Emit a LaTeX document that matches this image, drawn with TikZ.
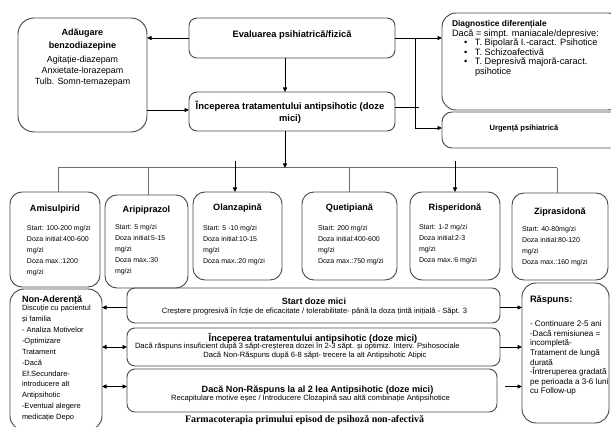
\documentclass[tikz,border=0pt]{standalone}
\usepackage{fontspec}
\setmainfont{Liberation Sans}
\newfontfamily\captionserif{Liberation Serif}
\usetikzlibrary{arrows.meta}
\definecolor{framegray}{HTML}{4A4A4A}
\definecolor{busgray}{HTML}{6E6E6E}
\newcommand\fsz[2]{\fontsize{#1}{#2}\selectfont}
% rounded panel given by its corners: name, x1, y1, x2, y2, corner radius
\newcommand\panel[6]{%
  \node[panelbox, rounded corners=#6, anchor=north west,
        minimum width={(#4-#2)*1pt}, minimum height={(#5-#3)*1pt}] (#1) at (#2,#3) {};}
% bullet item with the bullet hanging in front of the text
\newcommand\bulitem{\hspace*{12pt}•\hspace*{7.7pt}}
\begin{document}
\begin{tikzpicture}[x=1pt, y=-1pt,
  panelbox/.style={draw=framegray, line width=0.95pt, inner sep=0pt, outer sep=0pt},
  tx/.style={inner sep=0pt, outer sep=0pt, execute at begin node={\rule{0pt}{1em}}},
  link/.style={draw=black, line width=0.8pt},
  arr/.style={link, -{Triangle[length=4.5pt, width=4pt]}},
  darr/.style={link, {Triangle[length=4.5pt, width=4pt]}-{Triangle[length=4.5pt, width=4pt]}},
  bus/.style={draw=busgray, line width=1pt},
]
\useasboundingbox (0,0) rectangle (611,427);

% ---------- panels ----------
\panel{adaug}{18}{18}{147}{132}{16pt}
\panel{eval}{189}{18}{395}{58}{8pt}
\panel{incep}{189}{92}{395}{131}{8pt}
\panel{diag}{442}{13}{622}{110}{14pt}
\panel{urg}{442}{112}{622}{148}{10pt}
\panel{amis}{10}{192}{100}{287}{12pt}
\panel{arip}{105}{195}{188}{288}{12pt}
\panel{olan}{193}{192}{282}{280}{12pt}
\panel{quet}{302}{192}{397}{280}{12pt}
\panel{risp}{410}{192}{500}{280}{12pt}
\panel{zipr}{512}{193}{608}{280}{12pt}
\panel{nonad}{10}{289}{102}{430}{14pt}
\panel{start}{127}{288}{500}{323}{8pt}
\panel{incepb}{127}{328}{500}{366}{8pt}
\panel{daca}{127}{369}{497}{412}{8pt}
\panel{rasp}{522}{283}{609}{423}{14pt}

\begin{scope}[yshift=-1pt]
% ---------- top section texts ----------
\node[tx, anchor=north, align=center, font=\bfseries\fsz{9}{13}] (adaugT) at (82.5,28.2) {Adăugare\\benzodiazepine};
\node[tx, anchor=north, align=center, font=\fsz{8.9}{11}] (adaugB) at (82.5,55.3) {Agitație-diazepam\\Anxietate-lorazepam\\Tulb. Somn-temazepam};
\node[tx, anchor=north, font=\bfseries\fsz{9.3}{11}] (evalT) at (292,27) {Evaluarea psihiatrică/fizică};
\node[tx, anchor=north, align=center, font=\bfseries\fsz{9.4}{12}] (incepT) at (290,100) {Începerea tratamentului antipsihotic (doze\\mici)};
\node[tx, anchor=north west, font=\bfseries\fsz{8.4}{10}] (diagT) at (452,17.5) {Diagnostice diferențiale};
\node[tx, anchor=north west, align=left, font=\fsz{9.2}{9.6}] (diagB) at (452,28.3) {Dacă = simpt. maniacale/depresive:\\
  \bulitem T. Bipolară I.-caract. Psihotice\\
  \bulitem T. Schizoafectivă\\
  \bulitem T. Depresivă majoră-caract.\\
  \hspace*{23pt}psihotice};
\node[tx, anchor=north, font=\bfseries\fsz{7.6}{10}] (urgT) at (524,122) {Urgență psihiatrică};

% ---------- antipsychotic panels ----------
\node[tx, anchor=north, font=\bfseries\fsz{9.1}{11}] (amisT) at (55,201.2) {Amisulpirid};
\node[tx, anchor=north, font=\bfseries\fsz{9.1}{11}] (aripT) at (146.5,202.2) {Aripiprazol};
\node[tx, anchor=north, font=\bfseries\fsz{9.1}{11}] (olanT) at (237.5,200.2) {Olanzapină};
\node[tx, anchor=north, font=\bfseries\fsz{9.1}{11}] (quetT) at (349.5,200.2) {Quetipiană};
\node[tx, anchor=north, font=\bfseries\fsz{9.1}{11}] (rispT) at (455,200.2) {Risperidonă};
\node[tx, anchor=north, font=\bfseries\fsz{9.1}{11}] (ziprT) at (560,204.2) {Ziprasidonă};

\node[tx, anchor=north west, align=left, font=\fsz{7}{11}] (amisB) at (27,224.5) {Start: 100-200 mg/zi\\Doza initial:400-600\\mg/zi\\Doza max.:1200\\mg/zi};
\node[tx, anchor=north west, align=left, font=\fsz{7}{11}] (aripB) at (115,223.5) {Start: 5 mg/zi\\Doza initial:5-15\\mg/zi\\Doza max.:30\\mg/zi};
\node[tx, anchor=north west, align=left, font=\fsz{7}{11}] (olanB) at (203,224.5) {Start: 5 -10 mg/zi\\Doza initial:10-15\\mg/zi\\Doza max.:20 mg/zi};
\node[tx, anchor=north west, align=left, font=\fsz{7}{11}] (quetB) at (318,224.5) {Start: 200 mg/zi\\Doza initial:400-600\\mg/zi\\Doza max.:750 mg/zi};
\node[tx, anchor=north west, align=left, font=\fsz{7}{11}] (rispB) at (419,223.5) {Start: 1-2 mg/zi\\Doza initial:2-3\\mg/zi\\Doza max.:6 mg/zi};
\node[tx, anchor=north west, align=left, font=\fsz{7}{11}] (ziprB) at (522,225.5) {Start: 40-80mg/zi\\Doza initial:80-120\\mg/zi\\Doza max.:160 mg/zi};

% ---------- lower section texts ----------
\node[tx, anchor=north west, font=\bfseries\fsz{9.1}{11}] (nonadT) at (22,292.2) {Non-Aderență};
\node[tx, anchor=north west, align=left, font=\fsz{7.5}{10.9}] (nonadB) at (22,304.2) {Discuție cu pacientul\\și familia\\- Analiza Motivelor\\-Optimizare\\Tratament\\-Dacă\\Ef.Secundare-\\introducere alt\\Antipsihotic\\-Eventual alegere\\medicație Depo};

\node[tx, anchor=north west, font=\bfseries\fsz{9.3}{11}] (raspT) at (530,292) {Răspuns:};
\node[tx, anchor=north west, align=left, font=\fsz{8.1}{9.6}] (raspB) at (530,319.8) {- Continuare 2-5 ani\\-Dacă remisiunea =\\incompletă-\\Tratament de lungă\\durată\\-Întreruperea gradată\\pe perioada a 3-6 luni\\cu Follow-up};

\node[tx, anchor=north, font=\bfseries\fsz{9}{11}] (startT) at (314,294.2) {Start doze mici};
\node[tx, anchor=north, font=\fsz{7.6}{9}] (startB) at (314.5,305.1) {Creștere progresivă în fcție de eficacitate / tolerabilitate- până la doza țintă inițială - Săpt. 3};

\node[tx, anchor=north, font=\bfseries\fsz{9.2}{11}] (incepbT) at (313,331.1) {Începerea tratamentului antipsihotic (doze mici)};
\node[tx, anchor=north west, font=\fsz{7.6}{9}] (incepbA) at (135,340.1) {Dacă răspuns insuficient după 3 săpt-creșterea dozei în 2-3 săpt. și optimiz. Interv. Psihosociale};
\node[tx, anchor=north, font=\fsz{7.6}{9}] (incepbB) at (315,349.1) {Dacă Non-Răspuns după 6-8 săpt- trecere la alt Antipsihotic Atipic};

\node[tx, anchor=north, font=\bfseries\fsz{9.1}{11}] (dacaT) at (317.5,382.2) {Dacă Non-Răspuns la al 2 lea Antipsihotic (doze mici)};
\node[tx, anchor=north, font=\fsz{7.6}{9}] (dacaB) at (310.5,392.1) {Recapitulare motive eșec / Introducere Clozapină sau altă combinație Antipsihotice};

\node[tx, anchor=north, font=\captionserif\bfseries\fsz{9.9}{11}] (caption) at (304.5,411.4) {Farmacoterapia primului episod de psihoză non-afectivă};
\end{scope}

% ---------- connectors: top ----------
\draw[arr] (eval.west) -- (eval.west -| adaug.east);
\draw[arr] ([yshift=1.5pt]incep.west -| adaug.east) -- ([yshift=1.5pt]incep.west);
\draw[arr] ([xshift=-7pt]eval.south) -- ([xshift=-7pt]incep.north);
\draw[arr] (eval.east) -- (eval.east -| diag.west);
\coordinate (split) at (415,38);
\draw[arr] (split) |- ([yshift=2pt]urg.west);
\coordinate (incepOut) at ([yshift=4pt]incep.east);
\draw[link] (incepOut) -- ++(24,0);

% ---------- connectors: distribution bus ----------
\coordinate (busL) at (58,168);
\coordinate (busB) at (148,168);
\coordinate (busQ) at (349,168);
\coordinate (busR) at (557,168);
\draw[bus] (busL) -- (busR);
\draw[bus] (busL) -- (busL |- amis.north);
\draw[bus] (busB) -- (busB |- arip.north);
\draw[bus] (busQ) -- (busQ |- quet.north);
\draw[bus] (busR) -- (busR |- zipr.north);
\draw[arr] ([xshift=-7pt]incep.south) -- ([xshift=-7pt]incep.south |- busL);
\coordinate (olanIn) at (235,161);
\draw[arr] (olanIn) -- (olanIn |- olan.north);
\coordinate (rispIn) at (455,161);
\draw[arr] (rispIn) -- (rispIn |- risp.north);

% ---------- connectors: bottom ----------
\draw[arr] ([yshift=-2pt]start.west) -- ([yshift=-2pt]start.west -| nonad.east);
\draw[darr] (incepb.west -| nonad.east) -- (incepb.west);
\draw[darr] ([yshift=4pt]daca.west -| nonad.east) -- ([yshift=4pt]daca.west);
\draw[arr] ([yshift=-2pt]start.east) -- ([yshift=-2pt]start.east -| rasp.west);
\draw[arr] (incepb.east) -- (incepb.east -| rasp.west);
\coordinate (dacaOut) at ([xshift=8pt,yshift=4pt]daca.east);
\draw[arr] (dacaOut) -- (dacaOut -| rasp.west);
\end{tikzpicture}
\end{document}
